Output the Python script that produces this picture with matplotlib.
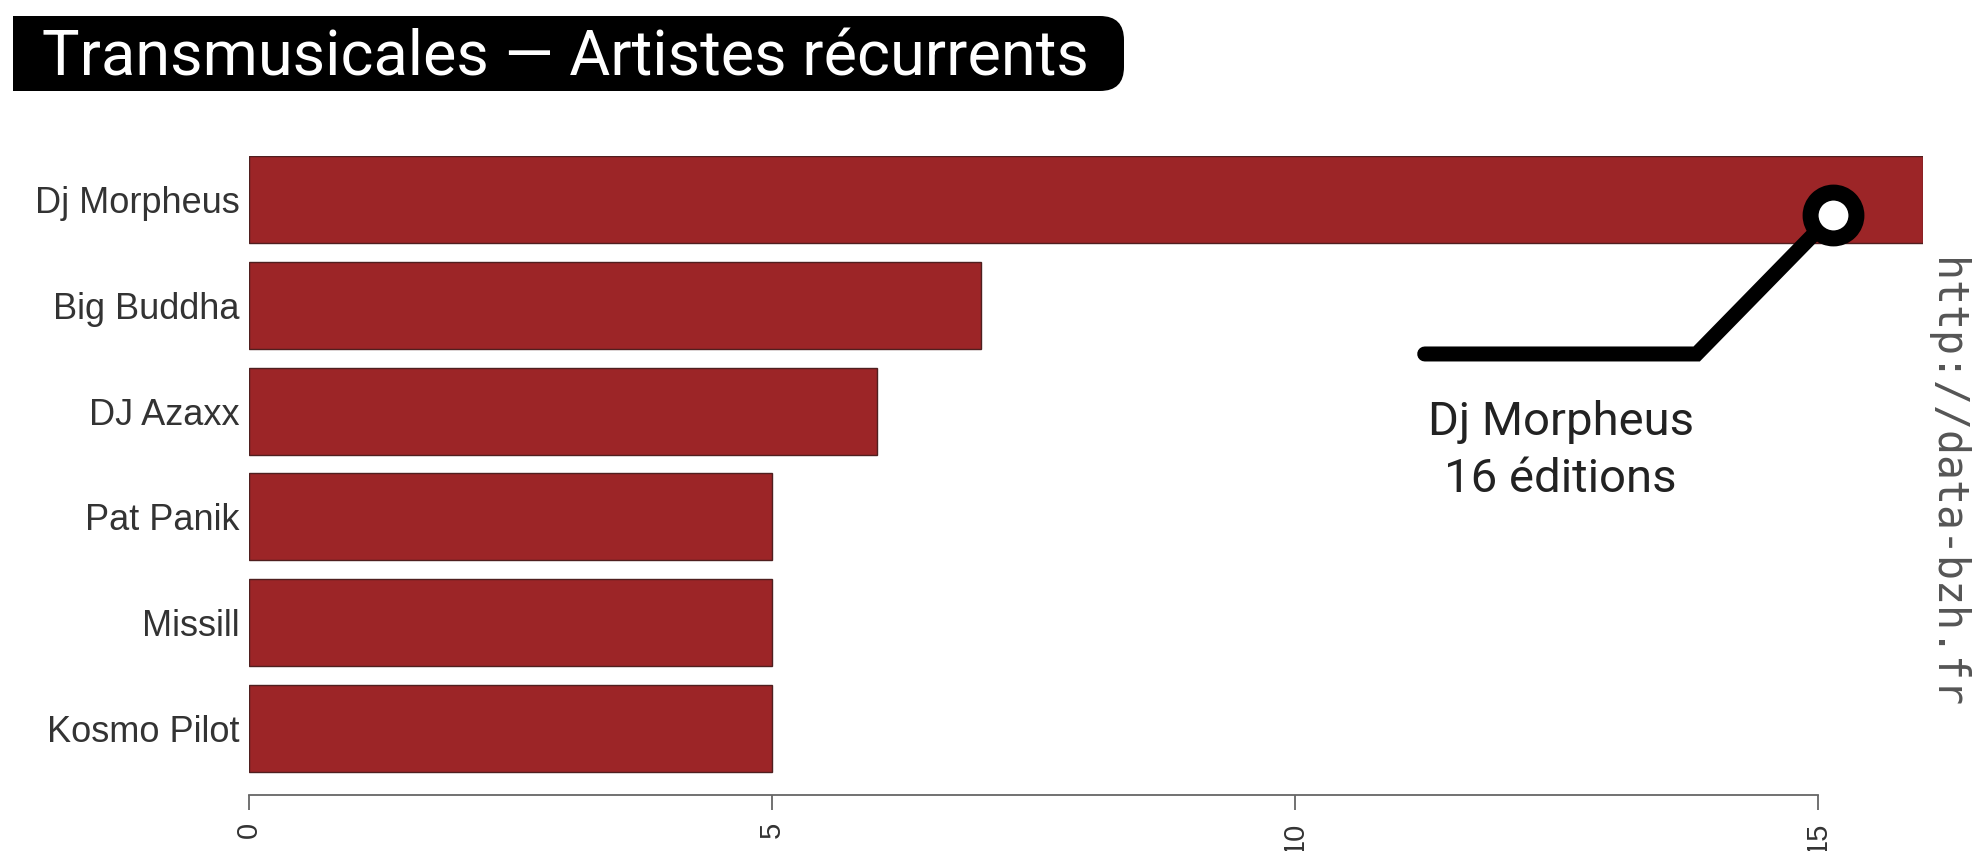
import matplotlib
matplotlib.use("Agg")
import matplotlib.pyplot as plt
from matplotlib.patches import FancyBboxPatch, Rectangle

#%% Data
artists = ["Dj Morpheus", "Big Buddha", "DJ Azaxx", "Pat Panik", "Missill", "Kosmo Pilot"]
editions = [16, 7, 6, 5, 5, 5]
x_ticks = [0, 5, 10, 15]

title = "Transmusicales \u2014 Artistes récurrents"
source = "http://data-bzh.fr"

W, H = 1977, 851


def fx(px):
    return px / W


def fy(py):
    return 1 - py / H


#%% Figure
fig = plt.figure(figsize=(W / 100, H / 100), dpi=100)
fig.patch.set_facecolor("white")

ax = fig.add_axes([fx(249), fy(795), fx(1922.6) - fx(249), fy(156) - fy(795)])
ypos = list(range(len(artists)))
ax.barh(ypos, editions, height=0.822, color="#9c2527", edgecolor="#4f1f1f", linewidth=1)

ax.set_xlim(0, 16)
ax.set_ylim(5.628, -0.411)
ax.set_yticks(ypos)
ax.set_yticklabels(artists, fontfamily="Liberation Sans", fontsize=26, color="#333333")
ax.tick_params(axis="y", length=0, pad=6.5)

ax.set_xticks(x_ticks)
ax.set_xticklabels([str(t) for t in x_ticks], rotation=90, fontfamily="Liberation Sans",
                   fontsize=21, color="#333333")
ax.tick_params(axis="x", length=11, width=1.3, color="#666666", pad=8)

for s in ["top", "right", "left"]:
    ax.spines[s].set_visible(False)
ax.spines["bottom"].set_bounds(0, 15)
ax.spines["bottom"].set_color("#666666")
ax.spines["bottom"].set_linewidth(1.3)

# annotation for the top artist
top = editions[0]
cx, cy = top - 0.86, 0.146
kx, ky = top - 2.16, 1.46
lx = top - 4.76
ax.plot([lx, kx, cx], [ky, ky, cy], color="black", lw=10.8,
        solid_capstyle="round", solid_joinstyle="miter", zorder=4, clip_on=False)
ax.plot([cx], [cy], marker="o", ms=33, mew=11.5, mfc="white", mec="black", zorder=5,
        clip_on=False)
ax.text(top - 3.46, 2.226, artists[0], ha="center", va="baseline", fontfamily="Roboto",
        fontsize=34, color="#222222")
ax.text(top - 3.46, 2.765, f"{top} éditions", ha="center", va="baseline",
        fontfamily="Roboto", fontsize=34, color="#222222")

#%% Title box (overlay in pixel coordinates)
ov = fig.add_axes([0, 0, 1, 1], zorder=-1)
ov.set_xlim(0, W)
ov.set_ylim(H, 0)
ov.axis("off")
x0, x1, y0, y1 = 13, 1124, 16, 91
ov.add_patch(FancyBboxPatch((x0, y0), x1 - x0, y1 - y0,
                            boxstyle="round,pad=0,rounding_size=24",
                            facecolor="black", edgecolor="none"))
ov.add_patch(Rectangle((x0, y0), 600, y1 - y0, facecolor="black", edgecolor="none"))
ov.text(42, 75, title, ha="left", va="baseline", fontfamily="Roboto",
        fontsize=45.4, color="white")

# source watermark
fig.text(fx(1946), fy(258), source, rotation=270, ha="center", va="top",
         fontfamily="DejaVu Sans Mono", fontsize=30, color="#555555")

fig.savefig("out.png", dpi=100, facecolor="white")
